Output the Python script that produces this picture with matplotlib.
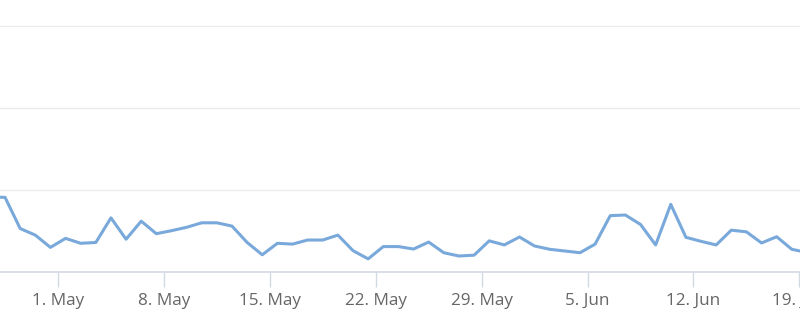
import matplotlib
matplotlib.use("Agg")
import matplotlib.pyplot as plt
import pandas as pd

start_date = "2023-04-26 12:00"
values = [91.5, 91, 53, 45, 30, 41, 35, 36, 66, 40, 62, 46.7, 50.4, 54.5, 60, 60, 56,
          36, 21, 35, 34, 39, 39, 45, 26, 16, 31, 31, 28, 36.5, 23.5, 19.5, 20.5, 38,
          33, 42.7, 31.7, 27.7, 25.6, 23.5, 34, 68.7, 69.5, 58, 33, 82.5, 42.3, 37.4,
          33, 51, 49, 35.4, 43, 27.7, 23.8]
dates = pd.date_range(start_date, periods=len(values), freq="D")
tick_dates = pd.date_range("2023-05-01", "2023-06-19", freq="7D")
tick_labels = [f"{d.day}. {d.strftime('%b')}" for d in tick_dates]
grid_values = [0, 100, 200, 300]

fig = plt.figure(figsize=(8, 3.25), dpi=100)
ax = fig.add_axes([0, 53 / 325, 1, 272 / 325])

for g in grid_values[1:]:
    ax.axhline(g, color="#ebebeb", lw=1, zorder=1)

ax.plot(dates, values, color="#79a9db", lw=2.2, zorder=3, solid_joinstyle="round")

ax.set_xlim(pd.Timestamp("2023-04-27 04:00"), pd.Timestamp("2023-06-19 01:00"))
ax.set_ylim(0, 272 / 82 * 100)

for s in ["top", "left", "right"]:
    ax.spines[s].set_visible(False)
ax.spines["bottom"].set_color("#d3d9e3")
ax.spines["bottom"].set_linewidth(1.2)
ax.set_yticks([])
ax.set_xticks(tick_dates)
ax.set_xticklabels(tick_labels, fontsize=12.3, color="#666666", family=["Open Sans", "DejaVu Sans"])
ax.tick_params(axis="x", direction="out", length=11, width=1, color="#d3d9e3", pad=4)
ax.patch.set_alpha(0)

fig.savefig("out.png", dpi=100)
